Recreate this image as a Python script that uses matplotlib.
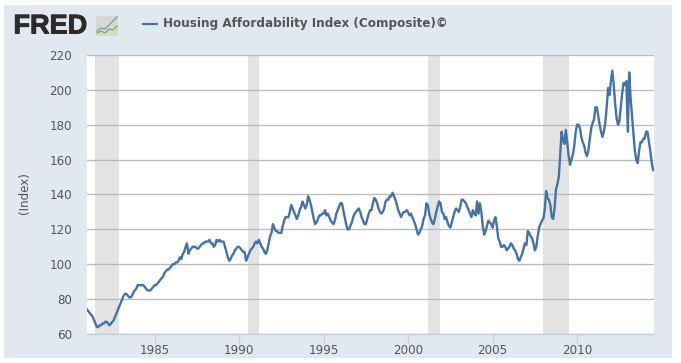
import matplotlib
matplotlib.use("Agg")
import matplotlib.pyplot as plt
import matplotlib.patheffects as pe
from matplotlib.patches import Rectangle, FancyBboxPatch

# monthly values, one row per year
start_year = 1981
values = [
    74, 73, 72, 71, 70, 68, 66, 64, 64, 65, 65, 66,
    66, 67, 67, 66, 65, 66, 67, 68, 70, 72, 74, 76,
    78, 80, 82, 83, 83, 82, 81, 81, 82, 84, 85, 86,
    88, 88, 88, 88, 88, 87, 86, 85, 85, 85, 86, 87,
    88, 88, 89, 90, 91, 92, 93, 95, 96, 97, 97, 98,
    99, 100, 100, 101, 101, 102, 104, 103, 106, 107, 110, 112,
    106, 108, 109, 110, 110, 110, 109, 109, 110, 111, 112, 112,
    113, 113, 113, 114, 112, 112, 110, 111, 114, 113, 114, 113,
    113, 113, 110, 107, 104, 102, 103, 105, 106, 108, 109, 110,
    110, 109, 108, 107, 107, 102, 104, 106, 108, 109, 110, 112,
    113, 112, 114, 112, 110, 109, 107, 106, 108, 112, 116, 118,
    123, 121, 119, 119, 118, 118, 118, 122, 125, 127, 127, 127,
    130, 134, 132, 130, 128, 126, 128, 131, 133, 136, 134, 132,
    134, 139, 137, 134, 130, 126, 123, 124, 126, 128, 128, 129,
    129, 131, 128, 129, 127, 125, 124, 123, 125, 129, 131, 133,
    135, 135, 131, 127, 123, 120, 120, 122, 124, 127, 129, 130,
    131, 132, 130, 127, 125, 123, 123, 126, 129, 131, 131, 135,
    138, 137, 135, 132, 130, 129, 130, 132, 136, 137, 137, 139,
    139, 141, 139, 137, 134, 131, 129, 127, 129, 130, 130, 131,
    130, 128, 129, 127, 125, 123, 120, 117, 118, 120, 122, 126,
    128, 135, 134, 129, 126, 124, 123, 126, 130, 133, 136, 135,
    130, 129, 126, 127, 124, 122, 121, 124, 127, 130, 132, 131,
    130, 133, 137, 137, 136, 135, 133, 131, 129, 127, 131, 129,
    128, 136, 129, 135, 130, 122, 117, 119, 122, 125, 124, 123,
    121, 125, 127, 122, 115, 113, 110, 110, 111, 110, 108, 109,
    110, 112, 111, 109, 108, 106, 103, 102, 104, 106, 109, 112,
    111, 119, 118, 116, 115, 112, 108, 110, 116, 121, 123, 125,
    126, 131, 142, 138, 137, 134, 127, 126, 132, 143, 146, 150,
    163, 176, 171, 169, 177, 170, 162, 157, 160, 163, 168, 176,
    180, 180, 178, 173, 170, 168, 164, 162, 165, 172, 178, 181,
    183, 190, 190, 185, 180, 176, 173, 176, 181, 190, 201, 197,
    205, 211, 203, 192, 184, 180, 182, 190, 198, 204, 203, 205,
    176, 210, 195, 185, 175, 165, 160, 158, 165, 170, 170, 172,
    172, 176, 176, 170, 165, 158, 154,
]
dates = [start_year + i / 12 for i in range(len(values))]

recessions = [(1981.45, 1982.87), (1990.55, 1991.2), (2001.2, 2001.9), (2008.0, 2009.5)]
x_ticks = [1985, 1990, 1995, 2000, 2005, 2010]
y_ticks = [60, 80, 100, 120, 140, 160, 180, 200, 220]
series_name = "Housing Affordability Index (Composite)©"

# small chart in the logo, in pixels of the icon box
logo_blue = [(97, 31), (101, 28), (105, 29), (110, 24), (113, 21), (117, 17)]
logo_green = [(97, 33), (101, 31), (105, 33), (109, 29), (113, 30), (117, 26)]

W, H = 681, 363
BLUE = "#4572A7"
PANEL = "#E1E8F0"
TEXT = "#555555"

fig = plt.figure(figsize=(W / 100, H / 100), dpi=100, facecolor="white")

# everything outside the plot is placed in pixels from the top left
bg = fig.add_axes([0, 0, 1, 1])
bg.set_xlim(0, W)
bg.set_ylim(H, 0)
bg.axis("off")
bg.add_patch(Rectangle((4, 5), 668, 353, fc=PANEL, ec="none"))

logo = bg.text(13.5, 26.5, "FRED", fontsize=19.5, fontweight="bold", color="#2b2b2b", va="center",
               ha="left", family="Liberation Sans")
logo.set_path_effects([pe.withStroke(linewidth=0.7, foreground="#2b2b2b")])
bg.add_patch(FancyBboxPatch((96, 16), 22, 20, boxstyle="round,pad=0,rounding_size=2",
                            fc="#D5D8CF", ec="none"))
bg.plot(*zip(*logo_blue), color="#6E8FB5", lw=0.8)
bg.plot(*zip(*logo_green), color="#7FA650", lw=0.8)

bg.plot([142, 158], [24, 24], color=BLUE, lw=1.6, solid_capstyle="butt")
bg.text(163, 23.5, series_name, fontsize=8.65, fontweight="bold", color=TEXT, va="center",
        ha="left", family="DejaVu Sans")
bg.text(24, 193, "(Index)", fontsize=8.6, color=TEXT, rotation=90, va="center", ha="center")

ax = fig.add_axes([87 / W, 1 - 334 / H, (654 - 87) / W, (334 - 55) / H])
ax.set_facecolor("white")
ax.set_xlim(1981.0, 2014.55)
ax.set_ylim(60, 220)

for a, b in recessions:
    ax.axvspan(a, b, color="#E3E3E3", lw=0, zorder=1)

ax.yaxis.grid(True, color="#BBBBBB", lw=0.95, zorder=2)
ax.set_axisbelow(False)
ax.plot(dates, values, color=BLUE, lw=1.7, zorder=3, solid_joinstyle="round")

ax.set_xticks(x_ticks)
ax.set_yticks(y_ticks)
ax.tick_params(axis="x", length=7, width=0.8, color="#C0D0E0", labelsize=8.6, labelcolor=TEXT, pad=0.5)
ax.tick_params(axis="y", length=0, labelsize=8.6, labelcolor=TEXT, pad=10.8)
for name in ["top", "left", "right"]:
    ax.spines[name].set_visible(False)
ax.spines["bottom"].set_color("#C0D0E0")
ax.spines["bottom"].set_linewidth(1)

fig.savefig("out.png", dpi=100)
